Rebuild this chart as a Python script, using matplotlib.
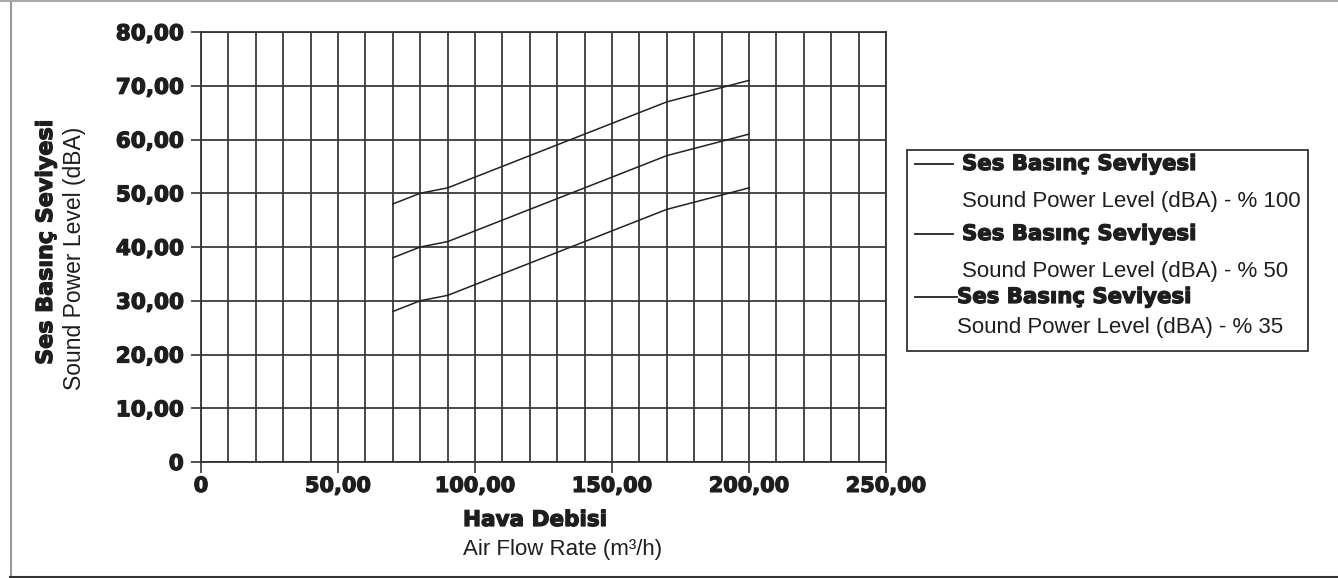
# Ses basinc seviyesi / air flow rate chart
import matplotlib.pyplot as plt
import matplotlib.patheffects as pe
from matplotlib.lines import Line2D
from matplotlib.patches import Rectangle

# data
air_flow = [70, 80, 90, 130, 170, 200]
level_100 = [48, 50, 51, 59, 67, 71]
level_50 = [38, 40, 41, 49, 57, 61]
level_35 = [28, 30, 31, 39, 47, 51]

x_ticks = [0, 50, 100, 150, 200, 250]
x_tick_labels = ["0", "50,00", "100,00", "150,00", "200,00", "250,00"]
y_ticks = [0, 10, 20, 30, 40, 50, 60, 70, 80]
y_tick_labels = ["0", "10,00", "20,00", "30,00", "40,00", "50,00", "60,00", "70,00", "80,00"]

legend_title = "Ses Basınç Seviyesi"
legend_labels = ["Sound Power Level (dBA) - % 100",
                 "Sound Power Level (dBA) - % 50",
                 "Sound Power Level (dBA) - % 35"]

TXT = "#1e1e1e"
# heavy look: bold DejaVu with a thin outline
heavy = [pe.withStroke(linewidth=0.9, foreground=TXT)]
BOLD = dict(family=["DejaVu Sans"], weight="bold", path_effects=heavy)
REG = dict(family=["Liberation Sans", "DejaVu Sans"])

W, H = 1338, 578
fig = plt.figure(figsize=(W / 100, H / 100), dpi=100)
ax = fig.add_axes([201 / W, 1 - 462 / H, 685 / W, 430 / H])

# grid every 10 units
for gx in range(0, 251, 10):
    ax.axvline(gx, color="#3a3a3a", lw=1.3, zorder=1)
for gy in range(0, 81, 10):
    ax.axhline(gy, color="#3a3a3a", lw=1.3, zorder=1)

for series in [level_100, level_50, level_35]:
    ax.plot(air_flow, series, color="#222222", lw=1.1, zorder=3)

ax.set_xlim(0, 250)
ax.set_ylim(0, 80)
ax.set_xticks(x_ticks)
ax.set_xticklabels(x_tick_labels, **BOLD, fontsize=15, color=TXT)
ax.set_yticks(y_ticks)
ax.set_yticklabels(y_tick_labels, **BOLD, fontsize=15.5, color=TXT)
ax.tick_params(axis="x", length=8, width=1.2, color="#333333", pad=2)
ax.tick_params(axis="y", length=7, width=1.2, color="#333333", pad=5.5)
for s in ax.spines.values():
    s.set_color("#333333")
    s.set_linewidth(1.3)

# axis titles
fig.text(46 / W, 1 - 242 / H, legend_title, rotation=90, ha="center", va="center",
         fontsize=16, color=TXT, **BOLD)
fig.text(75 / W, 1 - 258 / H, "Sound Power Level (dBA)", rotation=90, ha="center",
         va="center", fontsize=16.5, color=TXT, **REG)
fig.text(463 / W, 1 - 520 / H, "Hava Debisi", ha="left", va="center",
         fontsize=15.5, color=TXT, **BOLD)
fig.text(463 / W, 1 - 550 / H, "Air Flow Rate (m³/h)", ha="left", va="center",
         fontsize=16, color=TXT, **REG)

# legend box
fig.add_artist(Rectangle((907 / W, 1 - 351 / H), 401 / W, 201 / H, transform=fig.transFigure,
                         fill=False, edgecolor="#333333", lw=1.3))
entries = [(164, 202, 953, 962), (234, 272, 953, 962), (297, 328, 957, 957)]
for (ty, sy, lx, tx), lab in zip(entries, legend_labels):
    fig.add_artist(Line2D([915 / W, lx / W], [1 - ty / H, 1 - ty / H],
                          transform=fig.transFigure, color="#222222", lw=1.3))
    fig.text(tx / W, 1 - ty / H, legend_title, ha="left", va="center",
             fontsize=15.3, color=TXT, **BOLD)
    fig.text(tx / W, 1 - sy / H, lab, ha="left", va="center",
             fontsize=16, color=TXT, **REG)

# outer frame
fig.add_artist(Line2D([10.5 / W, 10.5 / W], [0, 1], transform=fig.transFigure, color="#999999", lw=1.5))
fig.add_artist(Line2D([0, 1], [1 - 0.8 / H, 1 - 0.8 / H], transform=fig.transFigure, color="#aaaaaa", lw=1.5))
fig.add_artist(Line2D([10 / W, 1], [1 - 577 / H, 1 - 577 / H], transform=fig.transFigure, color="#333333", lw=1.5))

fig.savefig("out.png", dpi=100)
